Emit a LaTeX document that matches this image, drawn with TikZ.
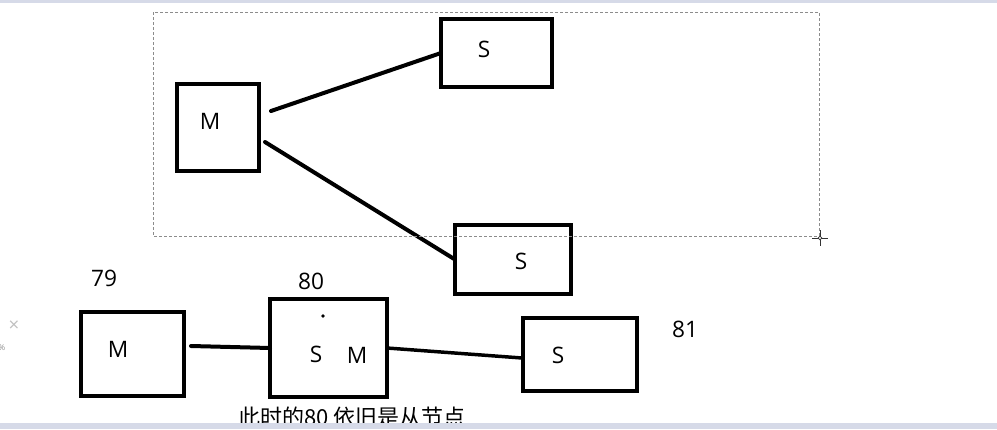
\documentclass[tikz,border=0pt]{standalone}
\usepackage{fontspec}
\setmainfont{Open Sans}
\newfontfamily\cjk{Noto Sans CJK SC}
\definecolor{bandgray}{HTML}{D6DAE8}
\definecolor{marquee}{HTML}{8C8C8C}
\tikzset{
  box/.style={draw,line width=3pt,inner sep=0pt,outer sep=0pt},
  lbl/.style={inner sep=0pt,font=\fontsize{17}{20}\selectfont},
  wire/.style={line width=3pt,line cap=round},
}
\begin{document}
\begin{tikzpicture}[x=0.75pt,y=-0.75pt]
\useasboundingbox (0,0) rectangle (997,429);
%%
\node (node_m) at (218,127.5) [box,minimum width=61.5pt,minimum height=65.25pt] {};
  \node (node_s1) at (496.5,53) [box,minimum width=83.25pt,minimum height=51pt] {};
  \node (node_s2) at (513,259.5) [box,minimum width=87pt,minimum height=51.75pt] {};
  \node (node_m79) at (132.5,354) [box,minimum width=77.25pt,minimum height=63pt] {};
  \node (node_n80) at (328.5,348) [box,minimum width=87.75pt,minimum height=73.5pt] {};
  \node (node_s81) at (580,354.5) [box,minimum width=85.5pt,minimum height=54.75pt] {};
%
\node (lbl_m) at (210,121) [lbl] {M};
  \node (lbl_s1) at (484,49) [lbl] {S};
  \node (lbl_s2) at (521,261) [lbl] {S};
  \node (lbl_m79) at (118,349) [lbl] {M};
  \node (lbl_s80) at (316,354) [lbl] {S};
  \node (lbl_m80) at (357,355) [lbl] {M};
  \node (lbl_s81) at (558,355) [lbl] {S};
  \node (num_79) at (104,278) [lbl] {79};
  \node (num_80) at (311,281) [lbl] {80};
  \node (num_81) at (685,329) [lbl] {81};
  \fill (323,316) circle (1.4pt);
%
\coordinate (c_0) at (271,111);
  \coordinate (c_1) at (265,142);
  \coordinate (c_2) at (191,346);
  \coordinate (c_3) at (522,358);
  \draw [wire] (c_0) -- (node_s1.west);
  \draw [wire] (c_1) -- (node_s2.west);
  \draw [wire] (c_2) -- (node_n80.west);
  \draw [wire,line width=2.6pt] (node_n80.east) -- (c_3);
%% selection frame and cursor
\draw [marquee,line width=0.75pt,dash pattern=on 2.25pt off 1.5pt] (153,12) rectangle (819,236);
  \draw [black!80,line width=0.75pt] (812,238) -- (828,238) (820,230) -- (820,246);
  \draw [black!80,fill=white,line width=0.6pt] (820,238) circle (1.4pt);
%
\node (note) at (352,425) [anchor=base,inner sep=0pt,font=\cjk\fontsize{16.5}{20}\selectfont] {此时的80\ 依旧是从节点};
  \node (ui_x) at (14,326) [inner sep=0pt,text=black!25,font=\fontsize{14}{16}\selectfont] {×};
  \node (ui_pct) at (2,348) [inner sep=0pt,text=black!45,font=\fontsize{6}{7}\selectfont] {\%};
  \fill [bandgray] (0,0) rectangle (997,3);
  \fill [bandgray] (0,423) rectangle (997,429);
\end{tikzpicture}
\end{document}
